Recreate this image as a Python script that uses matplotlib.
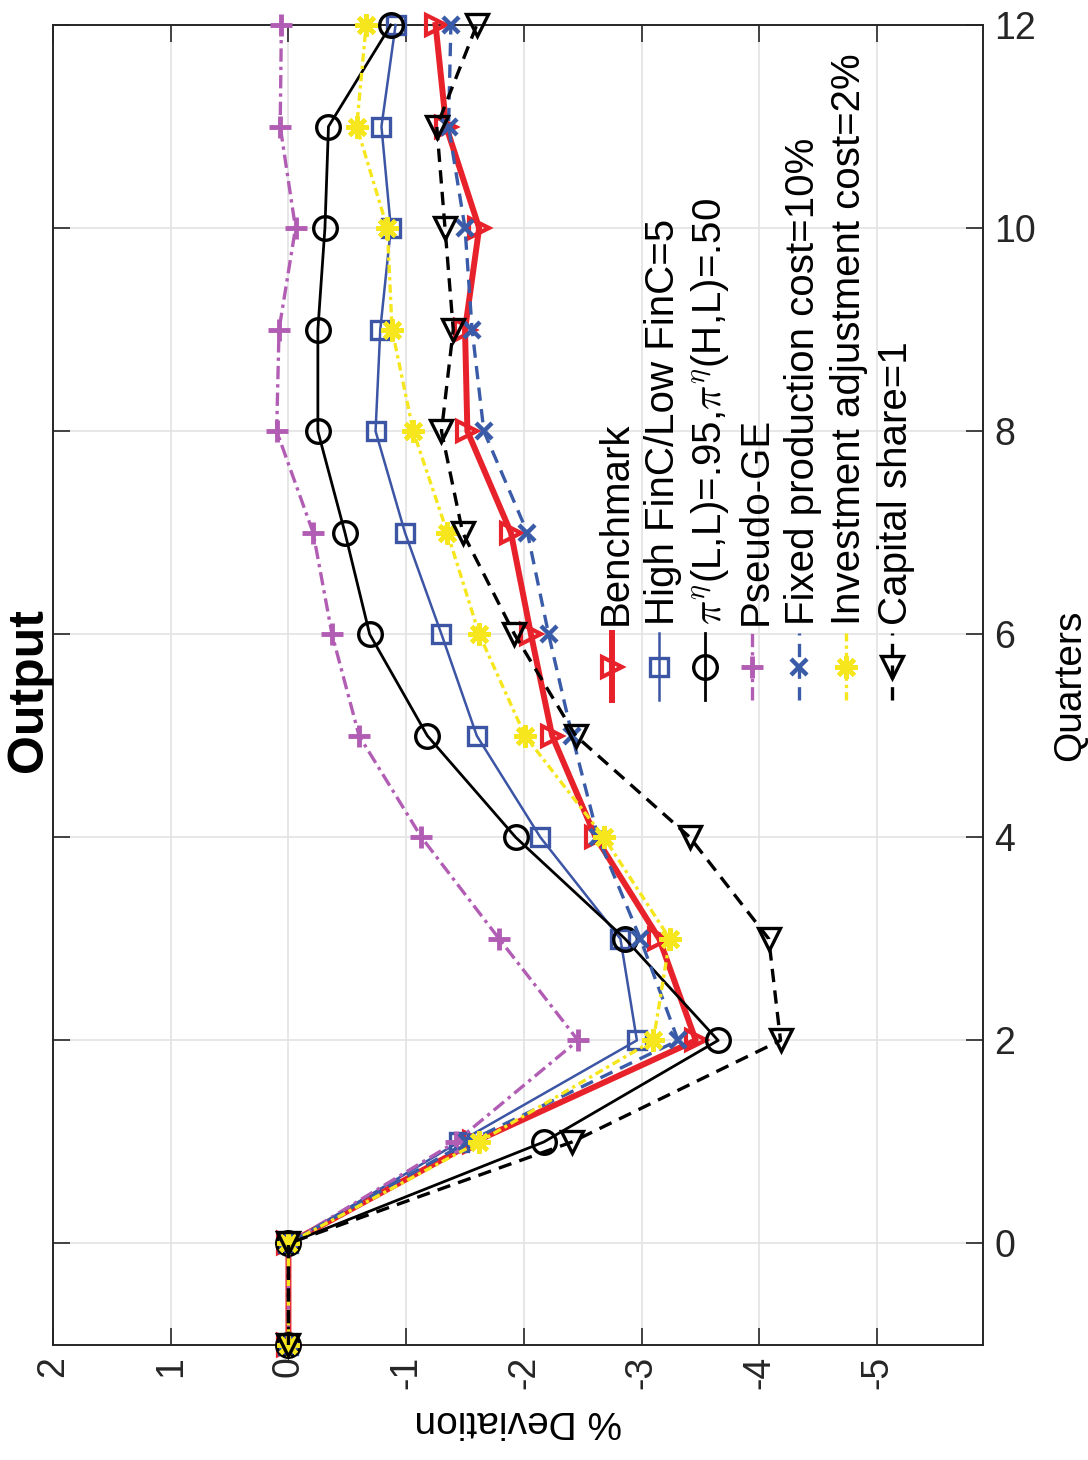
import matplotlib
matplotlib.use("Agg")
import matplotlib.pyplot as plt

plt.rcParams["font.family"] = ["Liberation Sans", "DejaVu Sans"]
plt.rcParams["mathtext.fontset"] = "cm"

# Impulse responses of output, quarters -1..12 (% deviation)
quarters = [-1, 0, 1, 2, 3, 4, 5, 6, 7, 8, 9, 10, 11, 12]
benchmark = [0, 0, -1.58, -3.46, -3.15, -2.61, -2.24, -2.06, -1.89, -1.52, -1.50, -1.62, -1.34, -1.25]
high_finc = [0, 0, -1.45, -2.96, -2.82, -2.14, -1.60, -1.30, -0.99, -0.74, -0.78, -0.87, -0.79, -0.91]
pi_eta = [0, 0, -2.17, -3.65, -2.86, -1.93, -1.18, -0.69, -0.48, -0.25, -0.25, -0.31, -0.34, -0.87]
pseudo_ge = [0, 0, -1.42, -2.46, -1.79, -1.13, -0.60, -0.37, -0.21, 0.10, 0.08, -0.06, 0.07, 0.06]
fixed_cost = [0, 0, -1.52, -3.31, -2.99, -2.63, -2.41, -2.21, -2.03, -1.66, -1.56, -1.50, -1.36, -1.38]
invest_cost = [0, 0, -1.62, -3.10, -3.24, -2.68, -2.01, -1.62, -1.35, -1.06, -0.88, -0.84, -0.58, -0.66]
capital_share = [0, 0, -2.41, -4.18, -4.08, -3.41, -2.44, -1.92, -1.48, -1.30, -1.40, -1.33, -1.26, -1.60]

labels = [
    "Benchmark",
    "High FinC/Low FinC=5",
    r"$\pi^{\eta}$(L,L)=.95,$\pi^{\eta}$(H,L)=.50",
    "Pseudo-GE",
    "Fixed production cost=10%",
    "Investment adjustment cost=2%",
    "Capital share=1",
]
dev_ticks = [2, 1, 0, -1, -2, -3, -4, -5]
quarter_ticks = [0, 2, 4, 6, 8, 10, 12]

ASTER = (8, 2, 0)
styles = [
    dict(color="#e8222b", ls="-", lw=4.3, marker=">", ms=15, mfc="none", mew=3.0),
    dict(color="#3c55a5", ls="-", lw=1.8, marker="s", ms=13, mfc="none", mew=2.4),
    dict(color="black", ls="-", lw=2.0, marker="o", ms=17, mfc="none", mew=2.4),
    dict(color="#b25db4", ls=(0, (4, 1.5, 1, 1.5)), lw=2.4, marker="+", ms=16, mew=3.5),
    dict(color="#3a5ba8", ls=(0, (4, 2.5)), lw=2.4, marker="x", ms=11, mew=3.2),
    dict(color="#f5e61e", ls=(0, (2.5, 1.2, 1, 1.2)), lw=2.4, marker=ASTER, ms=16, mew=3.2),
    dict(color="black", ls=(0, (4, 2.5)), lw=2.4, marker="v", ms=16, mfc="none", mew=2.4),
]
series = [benchmark, high_finc, pi_eta, pseudo_ge, fixed_cost, invest_cost, capital_share]

fig = plt.figure(figsize=(10.88, 14.6), dpi=100)
# the chart is drawn turned a quarter turn: deviation runs left-right, quarters bottom-top
ax = fig.add_axes([53 / 1088, 115 / 1460, 930 / 1088, 1320 / 1460])

for vals, st in zip(series, styles):
    ax.plot(vals, quarters, clip_on=False, zorder=3, **st)

ax.set_xlim(2, -5.9)
ax.set_ylim(-1, 12)
ax.set_xticks(dev_ticks)
ax.set_xticklabels([str(t) for t in dev_ticks], rotation=90, fontsize=27)
ax.set_yticks(quarter_ticks)
ax.set_yticklabels([str(t) for t in quarter_ticks], fontsize=27)
for lab in ax.get_yticklabels():
    lab.set_rotation(90)
    lab.set_va("center")
    lab.set_ha("left")
ax.tick_params(direction="in", length=12, width=1.2, top=True, right=True,
               labelleft=False, labelright=True, colors="#262626", pad=8)
ax.grid(True, color="#e3e3e3", lw=1.2)
ax.set_axisbelow(True)
for sp in ax.spines.values():
    sp.set_color("#262626")
    sp.set_linewidth(1.4)

ax.set_xlabel("% Deviation", fontsize=28, rotation=180, labelpad=10)
fig.text(1070 / 1088, 1 - 685 / 1460, "Quarters", rotation=90, fontsize=28,
         ha="center", va="center")
fig.text(29 / 1088, 1 - 690 / 1460, "Output", rotation=90, fontsize=36,
         fontweight="bold", ha="center", va="center")

# legend, turned like the rest of the chart
for i, (lab, st) in enumerate(zip(labels, styles)):
    x = (612 + 46.7 * i - 53) / 930
    y0 = (1345 - 700) / 1320
    y1 = (1345 - 633) / 1320
    line_st = {k: v for k, v in st.items() if k not in ("marker", "ms", "mfc", "mew")}
    ax.plot([x, x], [y0, y1], transform=ax.transAxes, clip_on=False, **line_st)
    ax.plot([x], [(y0 + y1) / 2], transform=ax.transAxes, clip_on=False, ls="none",
            color=st["color"], marker=st["marker"], ms=st["ms"],
            mfc=st.get("mfc", st["color"]), mew=st["mew"])
    ax.text(x, (1345 - 625) / 1320, lab, transform=ax.transAxes, rotation=90,
            rotation_mode="anchor", ha="left", va="center_baseline", fontsize=29)

fig.savefig("out.png", dpi=100)
